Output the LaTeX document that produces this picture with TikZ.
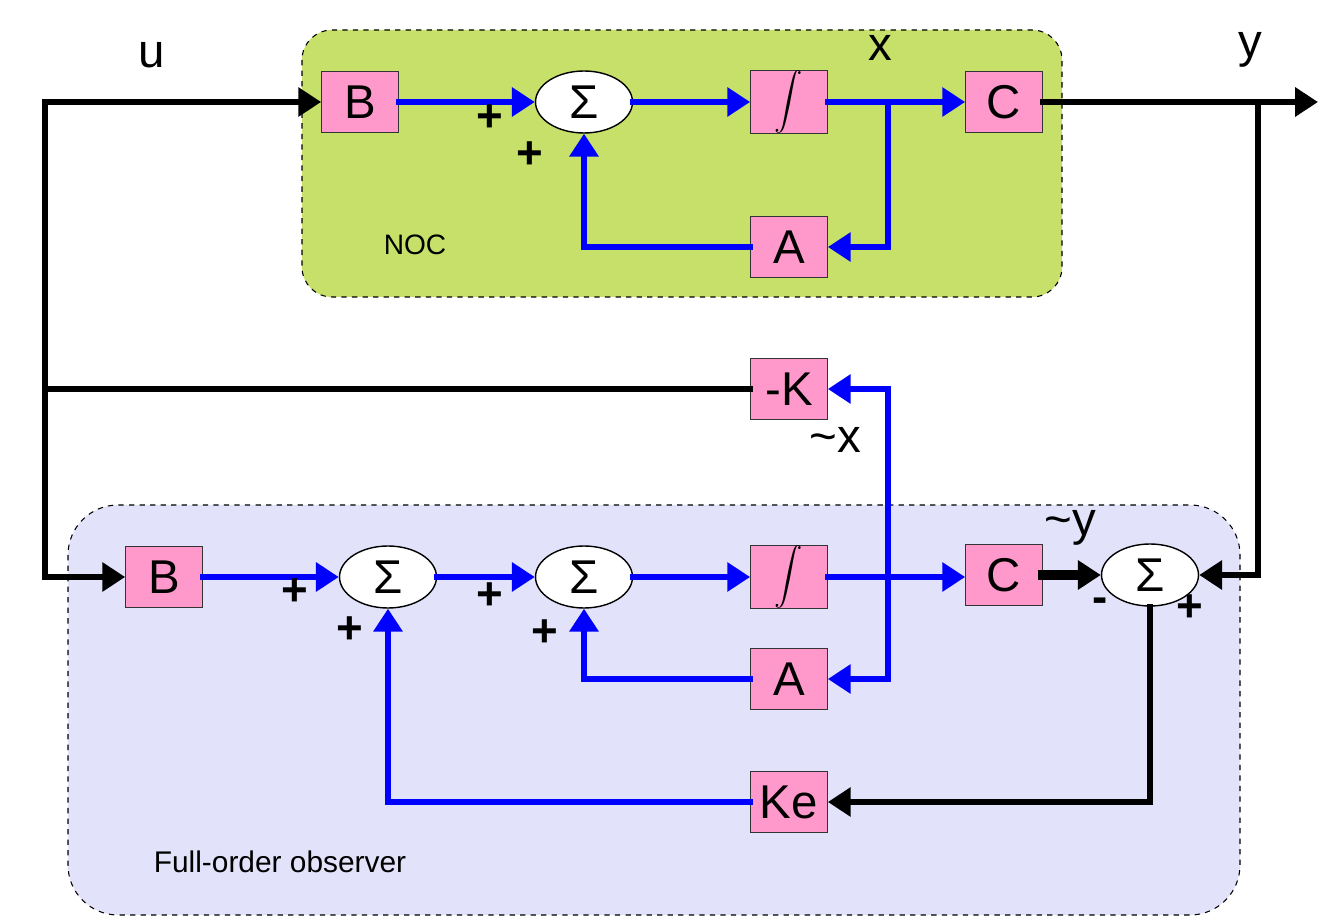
\documentclass[tikz,border=0pt]{standalone}
\usepackage{fontspec}
\setmainfont{Liberation Sans}
\usetikzlibrary{shapes.geometric,arrows.meta}

\definecolor{blockpink}{RGB}{255,153,204}
\definecolor{nocgreen}{RGB}{198,224,106}
\definecolor{obslilac}{RGB}{226,226,250}

\newcommand{\integ}{\resizebox{!}{0.98cm}{$\displaystyle\int$}}

\tikzset{
  block/.style={draw=black!80, fill=blockpink, minimum width=1.54cm,
    minimum height=1.22cm, inner sep=0pt, font=\fontsize{27}{30}\selectfont},
  sumnode/.style={ellipse, draw, thick, fill=white, minimum width=1.94cm,
    minimum height=1.24cm, inner sep=0pt, font=\fontsize{27}{30}\selectfont},
  blk/.style={line width=3.4pt, black, line cap=rect},
  blu/.style={line width=3.6pt, blue, line cap=rect},
  arr/.style={-{Triangle[length=13pt,width=16pt]}},
  lbl/.style={font=\fontsize{27}{30}\selectfont},
  sgn/.style={font=\bfseries\fontsize{26}{28}\selectfont},
  region/.style={draw, dashed, semithick}
}

\begin{document}
\begin{tikzpicture}[x=0.02cm,y=-0.02cm]
  \useasboundingbox (0,0) rectangle (1342,918);

  % backgrounds
  \filldraw[region, fill=nocgreen, rounded corners=0.6cm] (302,30) rectangle (1062,297);
  \filldraw[region, fill=obslilac, rounded corners=1cm] (68,505) rectangle (1240,915);
  \node[font=\fontsize{16}{18}\selectfont] (noc) at (415,245) {NOC};
  \node[font=\fontsize{17}{20}\selectfont] (obs) at (280,862) {Full-order observer};

  % plant
  \node[block] (B1) at (360,102) {B};
  \node[sumnode] (sum1) at (584,102) {Σ};
  \node[block] (int1) at (789,102) {\integ};
  \node[block] (C1) at (1004,102) {C};
  \node[block] (A1) at (789,247) {A};

  % gain
  \node[block] (K) at (789,389) {-K};

  % observer
  \node[block] (B2) at (164,577) {B};
  \node[sumnode] (sum2) at (388,577) {Σ};
  \node[sumnode] (sum3) at (584,577) {Σ};
  \node[block] (int2) at (789,577) {\integ};
  \node[block] (C2) at (1004,575) {C};
  \node[sumnode] (sum4) at (1150,575) {Σ};
  \node[block] (A2) at (789,679) {A};
  \node[block] (Ke) at (789,802) {Ke};

  \coordinate (ul) at (45,102);
  \coordinate (xb) at (888,102);
  \coordinate (yb) at (1258,102);
  \coordinate (yout) at (1318,102);
  \coordinate (xh) at (888,577);

  % input u
  \draw[blk,arr] (ul) -- (B1.west);
  \draw[blk,arr] (ul) |- (B2.west);
  \draw[blk] (K.west) -- (K.west -| ul);

  % plant signals
  \draw[blu,arr] (B1.east) -- (sum1.west);
  \draw[blu,arr] (sum1.east) -- (int1.west);
  \draw[blu,arr] (int1.east) -- (C1.west);
  \draw[blu,arr] (xb) |- (A1.east);
  \draw[blu,arr] (A1.west) -| (sum1.south);
  \draw[blk,arr] (C1.east) -- (yout);
  \draw[blk,arr] (yb) |- (sum4.east);

  % observer signals
  \draw[blu,arr] (B2.east) -- (sum2.west);
  \draw[blu,arr] (sum2.east) -- (sum3.west);
  \draw[blu,arr] (sum3.east) -- (int2.west);
  \draw[blu,arr] (int2.east) -- (C2.west |- int2.east);
  \draw[blu,arr] (xh) |- (K.east);
  \draw[blu,arr] (xh) |- (A2.east);
  \draw[blu,arr] (A2.west) -| (sum3.south);
  \draw[blk,line width=5.5pt,arr] (C2.east) -- (sum4.west);
  \draw[blk,arr] (sum4.south) |- (Ke.east);
  \draw[blu,arr] (Ke.west) -| (sum2.south);

  % labels
  \node[lbl] (lu) at (152,55) {u};
  \node[lbl] (lx) at (880,48) {x};
  \node[lbl] (ly) at (1250,50) {y};
  \node[lbl] (lxh) at (835,440) {\textasciitilde x};
  \node[lbl] (lyh) at (1070,528) {\textasciitilde y};

  % signs
  \node[sgn] (p1) at (490,118) {+};
  \node[sgn] (p2) at (530,155) {+};
  \node[sgn] (p3) at (295,592) {+};
  \node[sgn] (p4) at (350,630) {+};
  \node[sgn] (p5) at (490,596) {+};
  \node[sgn] (p6) at (545,633) {+};
  \node[sgn] (m7) at (1100,605) {-};
  \node[sgn] (p8) at (1190,608) {+};
\end{tikzpicture}
\end{document}
